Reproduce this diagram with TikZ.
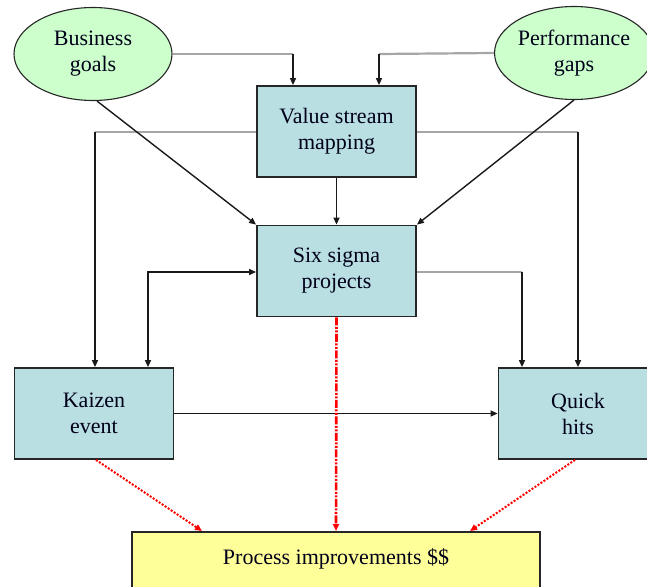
\documentclass[tikz,border=0pt]{standalone}
\usepackage{fontspec}
\setmainfont{Liberation Serif}
\usetikzlibrary{shapes.geometric,arrows.meta}

\definecolor{goalgreen}{HTML}{CCFFCC}
\definecolor{boxblue}{HTML}{B9DFE3}
\definecolor{resultyellow}{HTML}{FFFF99}
\definecolor{feedgray}{HTML}{A6A6A6}

\tikzset{
  base/.style={draw=black!85, line width=1.8pt, align=center,
    font=\fontsize{22}{26}\selectfont, text=black!90!blue},
  goal/.style={base, ellipse, fill=goalgreen, line width=1.1pt,
    minimum width=158pt, minimum height=93pt, inner sep=0pt},
  stepbox/.style={base, rectangle, fill=boxblue,
    minimum width=159pt, minimum height=91pt, inner sep=0pt},
  resultbox/.style={base, rectangle, fill=resultyellow,
    minimum width=408pt, minimum height=64pt, inner sep=0pt, text depth=14pt},
  tip/.style={-{Triangle[length=7pt,width=6pt]}},
  link/.style={tip, draw=black!90, line width=1.4pt},
  feed/.style={draw=feedgray, line width=2.2pt},
  gain/.style={-{Triangle[length=7pt,width=6pt]}, draw=red, line width=2pt,
    dash pattern=on 2pt off 1.6pt},
  maingain/.style={-{Triangle[length=7pt,width=6pt]}, draw=red, line width=2.6pt,
    dash pattern=on 8pt off 1.5pt on 2pt off 1.5pt on 2pt off 1.5pt}
}

\begin{document}
\begin{tikzpicture}[x=1pt, y=-1pt]
  \useasboundingbox (0,0) rectangle (647,586);

  % sources
  \node[goal] (bg) at (93,54) {Business\\goals};
  \node[goal] (pg) at (574,53) {Performance\\gaps};

  % improvement methods
  \node[stepbox] (vsm) at (336.5,131.5) {Value stream\\mapping};
  \node[stepbox] (six) at (336.5,271) {Six sigma\\projects};
  \node[stepbox] (kai) at (94,413.5) {Kaizen\\event};
  \node[stepbox] (qh) at (578,413.5) {Quick\\hits};

  % outcome
  \node[resultbox, anchor=north] (proc) at (336,531) {Process improvements \$\$};

  % bend points
  \coordinate (c1) at (293,54);
  \coordinate (c2) at (379,54);
  \coordinate (c3) at (95,132);
  \coordinate (c4) at (578,132);
  \coordinate (c5) at (148,272);
  \coordinate (c6) at (522,272);

  % goals and gaps into value stream mapping
  \draw[feed] (bg.east) -- (c1);
  \draw[link] (c1) -- (c1 |- vsm.north);
  \draw[feed] (pg.west) -- (c2);
  \draw[link] (c2) -- (c2 |- vsm.north);

  % value stream mapping feeds kaizen and quick hits
  \draw[feed] (vsm.west |- c3) -- (c3);
  \draw[link] (c3) -- (c3 |- kai.north);
  \draw[feed] (vsm.east |- c4) -- (c4);
  \draw[link] (c4) -- (c4 |- qh.north);

  % into six sigma
  \draw[link] ([xshift=4pt]bg.south) -- (six.north west);
  \draw[link] (pg.south) -- (six.north east);
  \draw[link] (vsm.south) -- (six.north);

  % six sigma and kaizen both ways
  \draw[link, {Triangle[length=7pt,width=6pt]}-{Triangle[length=7pt,width=6pt]}]
    (c5 |- kai.north) -- (c5) -- (six.west |- c5);

  % six sigma to quick hits
  \draw[feed] (six.east |- c6) -- (c6);
  \draw[link] (c6) -- (c6 |- qh.north);

  % kaizen to quick hits
  \draw[link] (kai.east) -- (qh.west);

  % results
  \draw[maingain] (six.south) -- (proc.north);
  \draw[gain] ([xshift=2pt]kai.south) -- ([xshift=-134pt]proc.north);
  \draw[gain] ([xshift=-3pt]qh.south) -- ([xshift=134pt]proc.north);
\end{tikzpicture}
\end{document}
